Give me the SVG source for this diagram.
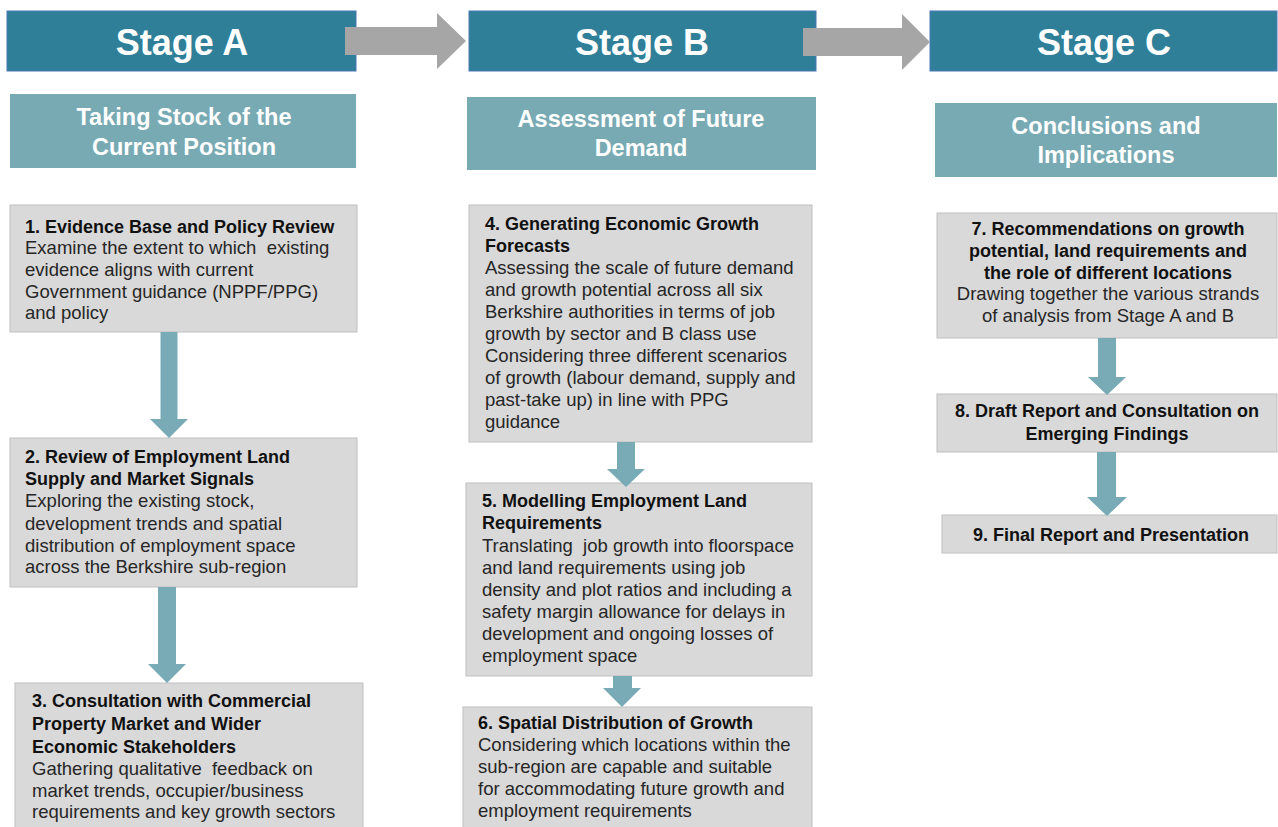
<svg xmlns="http://www.w3.org/2000/svg" width="1278" height="827" viewBox="0 0 1278 827" xml:space="preserve">
<style>
text{font-family:"Liberation Sans",Arial,sans-serif;white-space:pre}
.hdr{fill:#2F7F99;stroke:#4A78B5;stroke-width:1}
.hdrt{fill:#fff;font-size:36px;font-weight:bold;text-anchor:middle}
.sub{fill:#78AAB4}
.subt{fill:#fff;font-size:23.5px;font-weight:bold;text-anchor:middle}
.box{fill:#D9D9D9;stroke:#BFBFBF;stroke-width:1}
.b{font-size:18px;font-weight:bold;fill:#111}
.r{font-size:18.5px;fill:#262626}
.c{text-anchor:middle}
.garr{fill:#A6A6A6}
.tarr{fill:#78ABB6}
</style>
<rect width="1278" height="827" fill="#fff"/>
<g id="stageA"><rect class="hdr" x="7" y="11" width="349" height="60"/><text class="hdrt" x="182" y="55">Stage A</text></g>
<g id="stageB"><rect class="hdr" x="469" y="11" width="347" height="60"/><text class="hdrt" x="642" y="55">Stage B</text></g>
<g id="stageC"><rect class="hdr" x="930" y="11" width="347" height="60"/><text class="hdrt" x="1104" y="55">Stage C</text></g>
<g id="subA"><rect class="sub" x="10" y="94" width="346" height="74"/><text class="subt" x="184" y="125">Taking Stock of the</text><text class="subt" x="184" y="155">Current Position</text></g>
<g id="subB"><rect class="sub" x="467" y="97" width="349" height="73"/><text class="subt" x="641" y="127">Assessment of Future</text><text class="subt" x="641" y="156">Demand</text></g>
<g id="subC"><rect class="sub" x="935" y="103" width="342" height="74"/><text class="subt" x="1106" y="134">Conclusions and</text><text class="subt" x="1106" y="163">Implications</text></g>
<g id="box1"><rect class="box" x="10" y="205" width="347" height="127"/><text class="b" x="25" y="233">1. Evidence Base and Policy Review</text><text class="r" x="25" y="254">Examine the extent to which  existing</text><text class="r" x="25" y="276">evidence aligns with current</text><text class="r" x="25" y="298">Government guidance (NPPF/PPG)</text><text class="r" x="25" y="319">and policy</text></g>
<g id="box2"><rect class="box" x="10" y="438" width="347" height="149"/><text class="b" x="25" y="463">2. Review of Employment Land</text><text class="b" x="25" y="485">Supply and Market Signals</text><text class="r" x="25" y="507">Exploring the existing stock,</text><text class="r" x="25" y="530">development trends and spatial</text><text class="r" x="25" y="552">distribution of employment space</text><text class="r" x="25" y="573">across the Berkshire sub-region</text></g>
<g id="box3"><rect class="box" x="15" y="683" width="348" height="150"/><text class="b" x="32" y="707">3. Consultation with Commercial</text><text class="b" x="32" y="730">Property Market and Wider</text><text class="b" x="32" y="753">Economic Stakeholders</text><text class="r" x="32" y="775">Gathering qualitative  feedback on</text><text class="r" x="32" y="797">market trends, occupier/business</text><text class="r" x="32" y="818">requirements and key growth sectors</text></g>
<g id="box4"><rect class="box" x="469" y="205" width="343" height="237"/><text class="b" x="485" y="230">4. Generating Economic Growth</text><text class="b" x="485" y="252">Forecasts</text><text class="r" x="485" y="274">Assessing the scale of future demand</text><text class="r" x="485" y="296">and growth potential across all six</text><text class="r" x="485" y="318">Berkshire authorities in terms of job</text><text class="r" x="485" y="340">growth by sector and B class use</text><text class="r" x="485" y="362">Considering three different scenarios</text><text class="r" x="485" y="384">of growth (labour demand, supply and</text><text class="r" x="485" y="406">past-take up) in line with PPG</text><text class="r" x="485" y="428">guidance</text></g>
<g id="box5"><rect class="box" x="466" y="483" width="346" height="193"/><text class="b" x="482" y="507">5. Modelling Employment Land</text><text class="b" x="482" y="529">Requirements</text><text class="r" x="482" y="552">Translating  job growth into floorspace</text><text class="r" x="482" y="574">and land requirements using job</text><text class="r" x="482" y="596">density and plot ratios and including a</text><text class="r" x="482" y="618">safety margin allowance for delays in</text><text class="r" x="482" y="640">development and ongoing losses of</text><text class="r" x="482" y="662">employment space</text></g>
<g id="box6"><rect class="box" x="463" y="707" width="349" height="130"/><text class="b" x="478" y="729">6. Spatial Distribution of Growth</text><text class="r" x="478" y="751">Considering which locations within the</text><text class="r" x="478" y="773">sub-region are capable and suitable</text><text class="r" x="478" y="795">for accommodating future growth and</text><text class="r" x="478" y="817">employment requirements</text></g>
<g id="box7"><rect class="box" x="937" y="213" width="340" height="125"/><text class="b c" x="1108" y="235">7. Recommendations on growth</text><text class="b c" x="1108" y="257">potential, land requirements and</text><text class="b c" x="1108" y="279">the role of different locations</text><text class="r c" x="1108" y="300">Drawing together the various strands</text><text class="r c" x="1108" y="322">of analysis from Stage A and B</text></g>
<g id="box8"><rect class="box" x="937" y="394" width="340" height="58"/><text class="b c" x="1107" y="417">8. Draft Report and Consultation on</text><text class="b c" x="1107" y="440">Emerging Findings</text></g>
<g id="box9"><rect class="box" x="942" y="515" width="335" height="38"/><text class="b c" x="1111" y="541">9. Final Report and Presentation</text></g>
<g id="connectors">
<polygon class="garr" points="345,27 437,27 437,13 466,41 437,69 437,55 345,55"/>
<polygon class="garr" points="803,28 902,28 902,14 930,42 902,70 902,56 803,56"/>
<polygon class="tarr" points="160.5,332 177.5,332 177.5,419 188,419 169,438 150,419 160.5,419"/>
<polygon class="tarr" points="158,587 176,587 176,664 186,664 167,683 148,664 158,664"/>
<polygon class="tarr" points="617,442 635,442 635,469 645,469 626,487 607,469 617,469"/>
<polygon class="tarr" points="613,676 632,676 632,688 641,688 622,707 603,688 613,688"/>
<polygon class="tarr" points="1098,338 1116,338 1116,377 1126,377 1107,395 1088,377 1098,377"/>
<polygon class="tarr" points="1097,452 1116,452 1116,497 1127,497 1107,516 1087,497 1097,497"/>
</g>
</svg>
